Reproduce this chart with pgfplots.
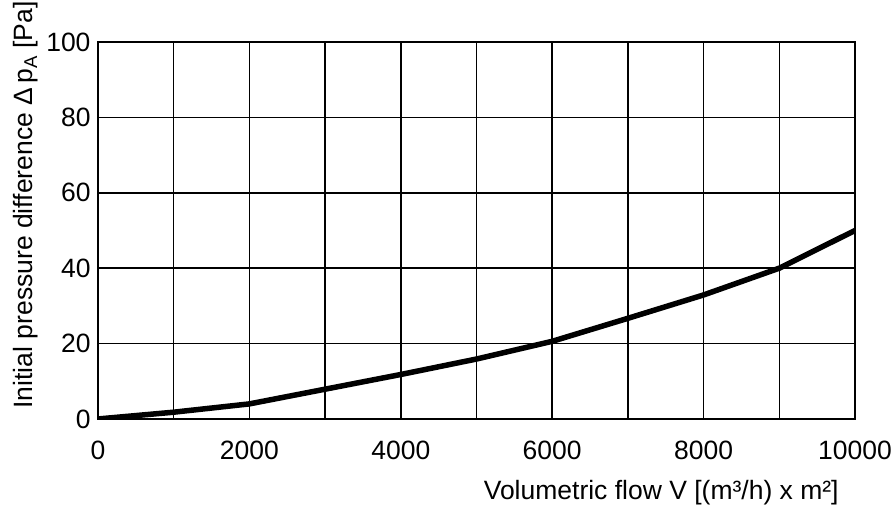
\documentclass[border=0pt]{standalone}
\usepackage{pgfplots}
\pgfplotsset{compat=1.18}
\usepackage{fontspec}
\setmainfont{Liberation Sans}
\begin{document}
\begin{tikzpicture}
\begin{axis}[
  scale only axis,
  width=757pt, height=377pt,
  xmin=0, xmax=10000, ymin=0, ymax=100,
  xtick={0,1000,...,10000},
  xticklabels={0,,2000,,4000,,6000,,8000,,10000},
  ytick={0,20,...,100},
  grid=major,
  major grid style={black, line width=1.5pt},
  axis line style={black, line width=2pt},
  major tick length=0pt,
  scaled x ticks=false,
  /pgf/number format/fixed,
  /pgf/number format/1000 sep={},
  /pgf/number format/assume math mode=true,
  ticklabel style={font=\fontsize{26.5}{30}\selectfont},
  xticklabel style={yshift=-18pt},
  yticklabel style={xshift=-4pt},
  label style={font=\fontsize{26.5}{30}\selectfont},
  xlabel={Volumetric flow V [(m³/h) x m²]},
  xlabel style={at={(axis description cs:0.744,-0.196)}, anchor=center},
  ylabel={Initial pressure difference Δ\,p\textsubscript{A} [Pa]},
  ylabel style={at={(axis description cs:-0.095,0.568)}, anchor=center},
]
\addplot[black, line width=5.5pt, line join=round, line cap=round] coordinates {
(0,0) (1000,1.8) (2000,4.0) (3000,7.9) (4000,11.8) (5000,15.9)
(6000,20.6) (7000,26.7) (8000,32.9) (9000,40.0) (10000,50.0)
};
\coordinate (BL) at (axis description cs:-0.1295,-0.2308);
\coordinate (TR) at (axis description cs:1.0542,1.1114);
\end{axis}
\pgfresetboundingbox
\path (BL) rectangle (TR);
\end{tikzpicture}
\end{document}
